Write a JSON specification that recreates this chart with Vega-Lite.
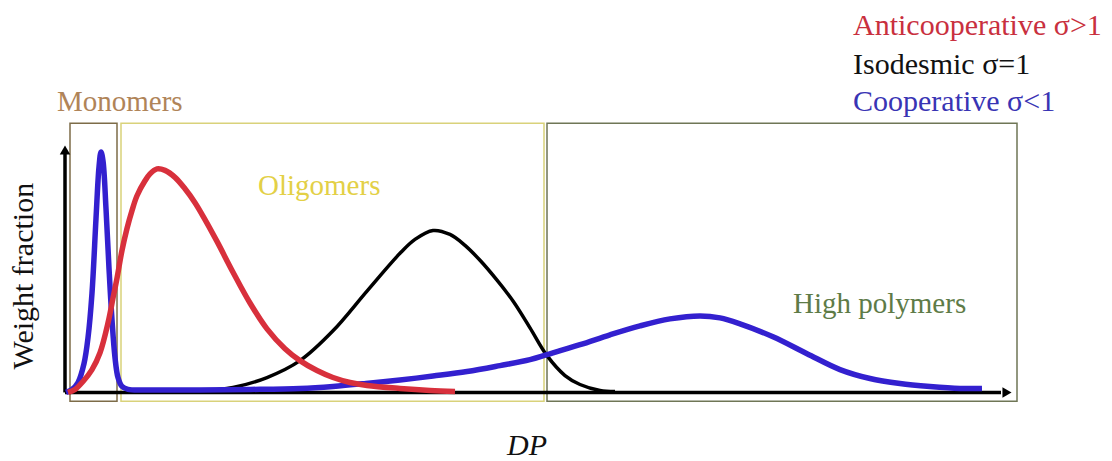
{
  "$schema": "https://vega.github.io/schema/vega-lite/v6.json",
  "width": 1112,
  "height": 461,
  "autosize": {"type": "fit", "contains": "padding"},
  "padding": 0,
  "background": "white",
  "config": {"view": {"stroke": null}},
  "datasets": {
    "curves": [
      {"model": "Isodesmic", "dp": 13.5, "w": 0.4},
      {"model": "Isodesmic", "dp": 16.8, "w": 2},
      {"model": "Isodesmic", "dp": 20.2, "w": 6},
      {"model": "Isodesmic", "dp": 23.5, "w": 12.8},
      {"model": "Isodesmic", "dp": 26.8, "w": 24.8},
      {"model": "Isodesmic", "dp": 30.2, "w": 40.8},
      {"model": "Isodesmic", "dp": 33.5, "w": 56},
      {"model": "Isodesmic", "dp": 35.0, "w": 61.6},
      {"model": "Isodesmic", "dp": 36.8, "w": 65.2},
      {"model": "Isodesmic", "dp": 38.5, "w": 63.6},
      {"model": "Isodesmic", "dp": 40.0, "w": 59.2},
      {"model": "Isodesmic", "dp": 41.5, "w": 53.2},
      {"model": "Isodesmic", "dp": 43.2, "w": 45.2},
      {"model": "Isodesmic", "dp": 44.8, "w": 36.8},
      {"model": "Isodesmic", "dp": 46.5, "w": 26},
      {"model": "Isodesmic", "dp": 48.2, "w": 14.8},
      {"model": "Isodesmic", "dp": 50.0, "w": 6.8},
      {"model": "Isodesmic", "dp": 51.5, "w": 3.2},
      {"model": "Isodesmic", "dp": 53.5, "w": 0.8},
      {"model": "Isodesmic", "dp": 55.0, "w": 0.4},

      {"model": "Cooperative", "dp": 0.1, "w": 0},
      {"model": "Cooperative", "dp": 0.7, "w": 1.2},
      {"model": "Cooperative", "dp": 1.3, "w": 4},
      {"model": "Cooperative", "dp": 1.9, "w": 11.6},
      {"model": "Cooperative", "dp": 2.3, "w": 22},
      {"model": "Cooperative", "dp": 2.7, "w": 40},
      {"model": "Cooperative", "dp": 3.1, "w": 70},
      {"model": "Cooperative", "dp": 3.4, "w": 90.8},
      {"model": "Cooperative", "dp": 3.6, "w": 96.8},
      {"model": "Cooperative", "dp": 3.8, "w": 93.2},
      {"model": "Cooperative", "dp": 4.1, "w": 74},
      {"model": "Cooperative", "dp": 4.4, "w": 50},
      {"model": "Cooperative", "dp": 4.7, "w": 29.2},
      {"model": "Cooperative", "dp": 5.0, "w": 14},
      {"model": "Cooperative", "dp": 5.3, "w": 6},
      {"model": "Cooperative", "dp": 5.7, "w": 2.4},
      {"model": "Cooperative", "dp": 6.3, "w": 1.2},
      {"model": "Cooperative", "dp": 8.5, "w": 1.0},
      {"model": "Cooperative", "dp": 13.5, "w": 1.0},
      {"model": "Cooperative", "dp": 18.5, "w": 1.2},
      {"model": "Cooperative", "dp": 23.5, "w": 1.6},
      {"model": "Cooperative", "dp": 26.8, "w": 2.4},
      {"model": "Cooperative", "dp": 30.1, "w": 3.6},
      {"model": "Cooperative", "dp": 33.5, "w": 5.0},
      {"model": "Cooperative", "dp": 36.8, "w": 6.6},
      {"model": "Cooperative", "dp": 40.2, "w": 8.4},
      {"model": "Cooperative", "dp": 43.5, "w": 10.8},
      {"model": "Cooperative", "dp": 46.5, "w": 13.2},
      {"model": "Cooperative", "dp": 48.2, "w": 15.2},
      {"model": "Cooperative", "dp": 51.5, "w": 19.2},
      {"model": "Cooperative", "dp": 54.5, "w": 23.2},
      {"model": "Cooperative", "dp": 57.5, "w": 26.8},
      {"model": "Cooperative", "dp": 60.5, "w": 29.6},
      {"model": "Cooperative", "dp": 63.5, "w": 30.8},
      {"model": "Cooperative", "dp": 65.5, "w": 30},
      {"model": "Cooperative", "dp": 67.5, "w": 27.6},
      {"model": "Cooperative", "dp": 70.8, "w": 22.4},
      {"model": "Cooperative", "dp": 74.2, "w": 15.6},
      {"model": "Cooperative", "dp": 77.5, "w": 9.2},
      {"model": "Cooperative", "dp": 80.5, "w": 5.6},
      {"model": "Cooperative", "dp": 83.5, "w": 3.6},
      {"model": "Cooperative", "dp": 86.5, "w": 2.4},
      {"model": "Cooperative", "dp": 89.5, "w": 1.6},
      {"model": "Cooperative", "dp": 91.7, "w": 1.6},

      {"model": "Anticooperative", "dp": 0.3, "w": 0},
      {"model": "Anticooperative", "dp": 1.0, "w": 1.2},
      {"model": "Anticooperative", "dp": 1.8, "w": 4.4},
      {"model": "Anticooperative", "dp": 2.7, "w": 9.2},
      {"model": "Anticooperative", "dp": 3.5, "w": 16},
      {"model": "Anticooperative", "dp": 4.3, "w": 28},
      {"model": "Anticooperative", "dp": 4.8, "w": 38},
      {"model": "Anticooperative", "dp": 5.2, "w": 46},
      {"model": "Anticooperative", "dp": 5.7, "w": 57.2},
      {"model": "Anticooperative", "dp": 6.2, "w": 66},
      {"model": "Anticooperative", "dp": 6.7, "w": 73.2},
      {"model": "Anticooperative", "dp": 7.2, "w": 79.2},
      {"model": "Anticooperative", "dp": 8.0, "w": 85.2},
      {"model": "Anticooperative", "dp": 8.5, "w": 88},
      {"model": "Anticooperative", "dp": 9.2, "w": 90},
      {"model": "Anticooperative", "dp": 10.0, "w": 89.4},
      {"model": "Anticooperative", "dp": 11.0, "w": 86.6},
      {"model": "Anticooperative", "dp": 12.0, "w": 82},
      {"model": "Anticooperative", "dp": 13.0, "w": 76.4},
      {"model": "Anticooperative", "dp": 14.0, "w": 69.6},
      {"model": "Anticooperative", "dp": 15.2, "w": 60.8},
      {"model": "Anticooperative", "dp": 16.8, "w": 48.4},
      {"model": "Anticooperative", "dp": 18.5, "w": 36},
      {"model": "Anticooperative", "dp": 20.2, "w": 25.6},
      {"model": "Anticooperative", "dp": 22.0, "w": 17.6},
      {"model": "Anticooperative", "dp": 23.5, "w": 12.8},
      {"model": "Anticooperative", "dp": 25.2, "w": 8.8},
      {"model": "Anticooperative", "dp": 26.8, "w": 6},
      {"model": "Anticooperative", "dp": 28.5, "w": 4},
      {"model": "Anticooperative", "dp": 30.2, "w": 2.8},
      {"model": "Anticooperative", "dp": 33.5, "w": 1.6},
      {"model": "Anticooperative", "dp": 36.5, "w": 0.8},
      {"model": "Anticooperative", "dp": 39.0, "w": 0.4}
    ],
    "regions": [
      {"region": "Monomers", "from": 0.5, "to": 5.2, "bottom": -3.6, "top": 108.4},
      {"region": "Oligomers", "from": 5.6, "to": 47.9, "bottom": -3.6, "top": 108.4},
      {"region": "High polymers", "from": 48.2, "to": 95.2, "bottom": -3.6, "top": 108.4}
    ],
    "regionLabels": [
      {"region": "Monomers", "dp": -0.8, "w": 113.2},
      {"region": "Oligomers", "dp": 19.3, "w": 79.6},
      {"region": "High polymers", "dp": 72.8, "w": 32}
    ],
    "legend": [
      {"label": "Anticooperative σ>1", "model": "Anticooperative", "dp": 78.8, "w": 144},
      {"label": "Isodesmic σ=1", "model": "Isodesmic", "dp": 78.8, "w": 128.4},
      {"label": "Cooperative σ<1", "model": "Cooperative", "dp": 78.8, "w": 113.2}
    ],
    "axes": [
      {"axis": "DP", "x1": 0, "x2": 93.6, "y1": 0, "y2": 0},
      {"axis": "Weight fraction", "x1": 0, "x2": 0, "y1": 0, "y2": 97}
    ],
    "arrowheads": [
      {"axis": "DP", "dp": 94.2, "w": 0, "shape": "triangle-right"},
      {"axis": "Weight fraction", "dp": 0, "w": 97.6, "shape": "triangle-up"}
    ],
    "titles": [
      {"title": "DP", "dp": 46.2, "w": -25.2},
      {"title": "Weight fraction", "dp": -3.2, "w": 46.8}
    ]
  },
  "resolve": {"scale": {"color": "independent", "stroke": "independent"}},
  "layer": [
    {
      "data": {"name": "regions"},
      "mark": {"type": "rect", "filled": false, "strokeWidth": 1.5},
      "encoding": {
        "x": {"field": "from", "type": "quantitative", "scale": {"domain": [-6.5, 104.7], "nice": false, "zero": false}, "axis": null},
        "x2": {"field": "to"},
        "y": {"field": "bottom", "type": "quantitative", "scale": {"domain": [-26.4, 158], "nice": false, "zero": false}, "axis": null},
        "y2": {"field": "top"},
        "stroke": {
          "field": "region", "type": "nominal", "legend": null,
          "scale": {"domain": ["Monomers", "Oligomers", "High polymers"], "range": ["#7d6c48", "#d9d27a", "#6f7656"]}
        }
      }
    },
    {
      "data": {"name": "axes"},
      "mark": {"type": "rule", "color": "black", "strokeWidth": 3.5},
      "encoding": {
        "x": {"field": "x1", "type": "quantitative"},
        "x2": {"field": "x2"},
        "y": {"field": "y1", "type": "quantitative"},
        "y2": {"field": "y2"}
      }
    },
    {
      "data": {"name": "arrowheads"},
      "mark": {"type": "point", "filled": true, "color": "black", "size": 110, "opacity": 1},
      "encoding": {
        "x": {"field": "dp", "type": "quantitative"},
        "y": {"field": "w", "type": "quantitative"},
        "shape": {"field": "shape", "type": "nominal", "scale": null, "legend": null}
      }
    },
    {
      "data": {"name": "curves"},
      "transform": [{"filter": "datum.model === 'Isodesmic'"}],
      "mark": {"type": "line", "color": "black", "strokeWidth": 3.5, "interpolate": "catmull-rom"},
      "encoding": {
        "x": {"field": "dp", "type": "quantitative"},
        "y": {"field": "w", "type": "quantitative"}
      }
    },
    {
      "data": {"name": "curves"},
      "transform": [{"filter": "datum.model === 'Cooperative'"}],
      "mark": {"type": "line", "color": "#3320cf", "strokeWidth": 5.5, "interpolate": "catmull-rom"},
      "encoding": {
        "x": {"field": "dp", "type": "quantitative"},
        "y": {"field": "w", "type": "quantitative"}
      }
    },
    {
      "data": {"name": "curves"},
      "transform": [{"filter": "datum.model === 'Anticooperative'"}],
      "mark": {"type": "line", "color": "#d8303c", "strokeWidth": 5.5, "interpolate": "catmull-rom"},
      "encoding": {
        "x": {"field": "dp", "type": "quantitative"},
        "y": {"field": "w", "type": "quantitative"}
      }
    },
    {
      "data": {"name": "regionLabels"},
      "mark": {"type": "text", "font": "Liberation Serif", "fontSize": 29, "align": "left", "baseline": "alphabetic"},
      "encoding": {
        "x": {"field": "dp", "type": "quantitative"},
        "y": {"field": "w", "type": "quantitative"},
        "text": {"field": "region"},
        "color": {
          "field": "region", "type": "nominal", "legend": null,
          "scale": {"domain": ["Monomers", "Oligomers", "High polymers"], "range": ["#b08458", "#e3d046", "#5e7b47"]}
        }
      }
    },
    {
      "data": {"name": "legend"},
      "mark": {"type": "text", "font": "Liberation Serif", "fontSize": 30, "align": "left", "baseline": "alphabetic"},
      "encoding": {
        "x": {"field": "dp", "type": "quantitative"},
        "y": {"field": "w", "type": "quantitative"},
        "text": {"field": "label"},
        "color": {
          "field": "model", "type": "nominal", "legend": null,
          "scale": {"domain": ["Anticooperative", "Isodesmic", "Cooperative"], "range": ["#c9303e", "#111111", "#3934b4"]}
        }
      }
    },
    {
      "data": {"name": "titles"},
      "transform": [{"filter": "datum.title === 'DP'"}],
      "mark": {"type": "text", "font": "Liberation Serif", "fontSize": 30, "fontStyle": "italic", "align": "center", "baseline": "alphabetic", "color": "#111111"},
      "encoding": {
        "x": {"field": "dp", "type": "quantitative"},
        "y": {"field": "w", "type": "quantitative"},
        "text": {"field": "title"}
      }
    },
    {
      "data": {"name": "titles"},
      "transform": [{"filter": "datum.title === 'Weight fraction'"}],
      "mark": {"type": "text", "font": "Liberation Serif", "fontSize": 30, "angle": 270, "align": "center", "baseline": "alphabetic", "color": "#111111"},
      "encoding": {
        "x": {"field": "dp", "type": "quantitative"},
        "y": {"field": "w", "type": "quantitative"},
        "text": {"field": "title"}
      }
    }
  ]
}
